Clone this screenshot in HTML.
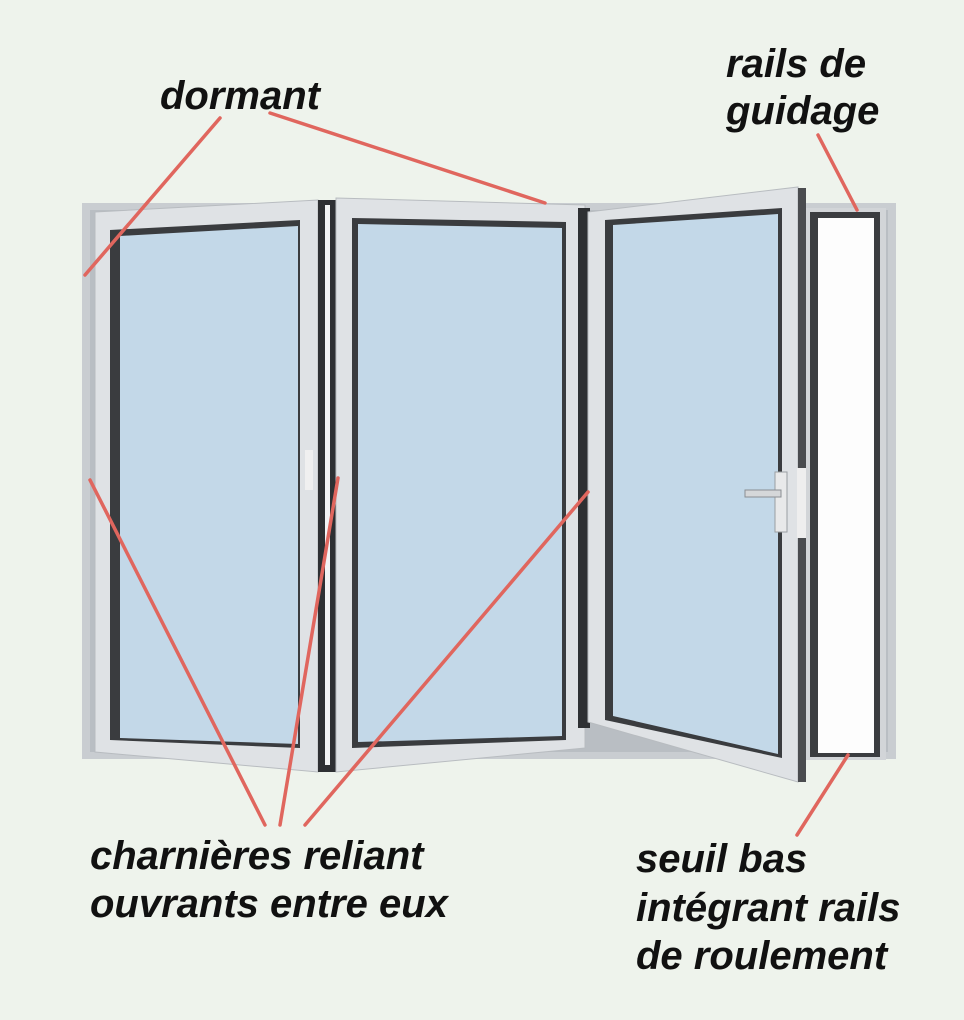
<!DOCTYPE html>
<html><head><meta charset="utf-8"><style>
html,body{margin:0;padding:0;background:#eef3ec;}
svg{display:block}
text{font-family:"Liberation Sans",sans-serif;font-weight:bold;font-style:italic;font-size:40px;fill:#111}
</style></head><body>
<svg width="964" height="1020" viewBox="0 0 964 1020">
<rect width="964" height="1020" fill="#eef3ec"/>
<rect x="82" y="203" width="814" height="556" fill="#c9cdd1"/>
<rect x="90" y="210" width="798" height="542" fill="#b9bec3"/>
<rect x="806" y="208" width="80" height="552" fill="#d2d5d8"/>
<rect x="810" y="212" width="70" height="545" fill="#3b3d40"/>
<rect x="818" y="218" width="56" height="535" fill="#fdfdfd"/>
<polygon points="95,212 318,200 318,772 95,752" fill="#dfe2e5" stroke="#b8bcc0"/>
<polygon points="110,230 300,220 300,748 110,740" fill="#3a3c3f"/>
<polygon points="120,236 298,226 298,744 120,738" fill="#c3d8e8"/>
<rect x="318" y="200" width="18" height="572" fill="#2e3033"/>
<rect x="325" y="205" width="5" height="560" fill="#f2f3f4"/>
<polygon points="336,198 585,205 585,748 336,772" fill="#dfe2e5" stroke="#b8bcc0"/>
<polygon points="352,218 566,222 566,740 352,748" fill="#3a3c3f"/>
<polygon points="358,224 562,228 562,736 358,742" fill="#c3d8e8"/>
<rect x="305" y="450" width="8" height="40" fill="#f0f0f0"/>
<rect x="578" y="208" width="12" height="520" fill="#2e3033"/>
<polygon points="588,212 798,187 798,782 588,722" fill="#dfe2e5" stroke="#b8bcc0"/>
<polygon points="605,220 782,208 782,758 605,720" fill="#3a3c3f"/>
<polygon points="613,225 778,214 778,754 613,716" fill="#c3d8e8"/>
<rect x="798" y="188" width="8" height="594" fill="#4a4c4f"/>
<rect x="775" y="472" width="12" height="60" fill="#e8e9ea" stroke="#9a9ea2"/>
<rect x="745" y="490" width="36" height="7" fill="#d5d7d9" stroke="#8a8e92"/>
<rect x="797" y="468" width="9" height="70" fill="#eee"/>
<g stroke="#e0665e" stroke-width="3.5" stroke-linecap="round">
<line x1="220" y1="118" x2="85" y2="275"/>
<line x1="270" y1="113" x2="545" y2="203"/>
<line x1="818" y1="135" x2="857" y2="210"/>
<line x1="265" y1="825" x2="90" y2="480"/>
<line x1="280" y1="825" x2="338" y2="478"/>
<line x1="305" y1="825" x2="588" y2="492"/>
<line x1="797" y1="835" x2="848" y2="755"/>
</g>
<text x="160" y="109">dormant</text>
<text x="726" y="77">rails de</text>
<text x="726" y="124">guidage</text>
<text x="90" y="869">charnières reliant</text>
<text x="90" y="917">ouvrants entre eux</text>
<text x="636" y="872">seuil bas</text>
<text x="636" y="921">intégrant rails</text>
<text x="636" y="969">de roulement</text>
</svg>
</body></html>
